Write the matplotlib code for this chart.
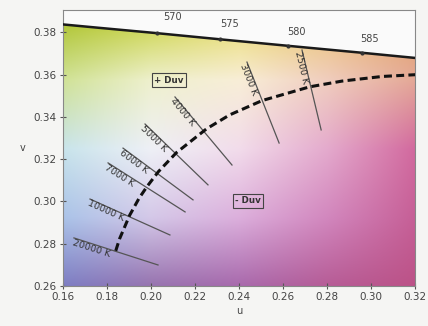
import numpy as np
import matplotlib.pyplot as plt
from matplotlib.patches import Polygon

# spectral locus (CIE 1960 uv), nm
wavelengths = [560, 565, 570, 575, 580, 585, 590]
locus_u = [0.1531, 0.1766, 0.2026, 0.2312, 0.2623, 0.2960, 0.3315]
locus_v = [0.3844, 0.3821, 0.3796, 0.3767, 0.3736, 0.3703, 0.3667]
wl_labels = ["570", "575", "580", "585"]
wl_label_u = [0.210, 0.2355, 0.2659, 0.2991]
wl_label_v = [0.3850, 0.3817, 0.3778, 0.3745]

# planckian locus
cct = [20000, 15000, 10000, 8000, 7000, 6000, 5000, 4000, 3500, 3000, 2500, 2250, 2000, 1800]
planck_u = [0.1840, 0.1857, 0.1903, 0.1946, 0.1982, 0.2034, 0.2115, 0.2252, 0.2357, 0.2505, 0.2721, 0.2867, 0.3050, 0.3231]
planck_v = [0.2766, 0.2822, 0.2934, 0.3015, 0.3070, 0.3141, 0.3230, 0.3343, 0.3409, 0.3477, 0.3542, 0.3569, 0.3591, 0.3601]

# isotemperature lines
iso_labels = ["20000 K", "10000 K", "7000 K", "6000 K", "5000 K", "4000 K", "3000 K", "2500 K"]
iso_u0 = [0.1650, 0.1723, 0.1805, 0.1873, 0.1973, 0.2109, 0.2436, 0.2686]
iso_v0 = [0.2827, 0.3011, 0.3182, 0.3252, 0.3366, 0.3494, 0.3659, 0.3716]
iso_u1 = [0.2032, 0.2086, 0.2155, 0.2191, 0.2259, 0.2368, 0.2582, 0.2773]
iso_v1 = [0.2699, 0.2841, 0.2950, 0.3007, 0.3078, 0.3172, 0.3276, 0.3338]

# background colour control grid (rows: v from 0.26 up to 0.39, cols: u 0.16..0.32)
bg_u = [0.16, 0.20, 0.24, 0.28, 0.32]
bg_v = [0.26, 0.2925, 0.325, 0.3575, 0.39]
bg_rgb = [
    [(125, 125, 195), (150, 115, 175), (168, 105, 172), (182, 92, 150), (188, 82, 135)],
    [(170, 195, 232), (212, 200, 232), (220, 175, 220), (210, 135, 190), (198, 95, 150)],
    [(200, 228, 235), (238, 240, 246), (242, 220, 235), (228, 170, 205), (210, 105, 158)],
    [(208, 226, 150), (238, 240, 205), (248, 238, 215), (240, 205, 190), (228, 168, 150)],
    [(170, 192, 35), (198, 208, 55), (232, 218, 100), (235, 195, 105), (228, 165, 95)],
]

plt.rcParams['font.family'] = ['DejaVu Sans']
fig = plt.figure(figsize=(4.28, 3.26), dpi=100, facecolor='#f5f5f3')
ax = fig.add_axes([0.147, 0.123, 0.823, 0.846])
ax.set_facecolor('#fafafa')

du = bg_u[1] - bg_u[0]
dv = bg_v[1] - bg_v[0]
img = np.array(bg_rgb, dtype=float) / 255.0
im = ax.imshow(img, origin='lower', interpolation='bilinear', aspect='auto',
               extent=[bg_u[0] - du / 2, bg_u[-1] + du / 2, bg_v[0] - dv / 2, bg_v[-1] + dv / 2],
               zorder=0)
clip = Polygon(list(zip(locus_u, locus_v)) + [(locus_u[-1], 0.2), (locus_u[0], 0.2)],
               closed=True, transform=ax.transData, facecolor='none', edgecolor='none')
ax.add_patch(clip)
im.set_clip_path(clip)

# spectral locus
ax.plot(locus_u, locus_v, color='#1a1a1a', lw=1.8, zorder=3)
ax.plot(locus_u[2:6], locus_v[2:6], 'o', color='#333333', ms=2, zorder=4)
for t, x, y in zip(wl_labels, wl_label_u, wl_label_v):
    ax.text(x, y, t, fontsize=7, color='#444444', ha='center', va='bottom', zorder=5)

# isotemperature lines + labels
for lab, x0, y0, x1, y1 in zip(iso_labels, iso_u0, iso_v0, iso_u1, iso_v1):
    ax.plot([x0, x1], [y0, y1], color='#555555', lw=0.9, zorder=2)
    ang = np.degrees(np.arctan2(y1 - y0, x1 - x0))
    ax.text(x0, y0, lab, fontsize=6.8, color='#333333', rotation=ang,
            rotation_mode='anchor', transform_rotates_text=True,
            ha='left', va='top', zorder=5)

# planckian locus
ax.plot(planck_u, planck_v, color='#111111', lw=2.2, ls=(0, (2.6, 1.4)), zorder=4)

box = dict(boxstyle='square,pad=0.25', facecolor='none', edgecolor='#444444', lw=0.8)
ax.text(0.2082, 0.3574, "+ Duv", fontsize=6.3, fontweight='bold', color='#333333',
        ha='center', va='center', bbox=box, zorder=5)
ax.text(0.2441, 0.3002, "- Duv", fontsize=6.3, fontweight='bold', color='#333333',
        ha='center', va='center', bbox=box, zorder=5)

ax.set_xlim(0.16, 0.32)
ax.set_ylim(0.26, 0.3905)
ax.set_xticks(np.arange(0.16, 0.321, 0.02))
ax.set_yticks(np.arange(0.26, 0.381, 0.02))
ax.set_xticklabels([f"{t:.2f}" for t in np.arange(0.16, 0.321, 0.02)])
ax.set_yticklabels([f"{t:.2f}" for t in np.arange(0.26, 0.381, 0.02)])
ax.tick_params(direction='inout', length=5, width=0.8, colors='#555555',
               labelsize=7.5, labelcolor='#444444', pad=2)
for s in ax.spines.values():
    s.set_color('#888888')
    s.set_linewidth(0.8)
ax.set_xlabel("u", fontsize=7, color='#444444', labelpad=3)
ax.set_ylabel("v", fontsize=7, color='#444444', rotation=0, labelpad=8, va='center')

fig.savefig("out.png", dpi=100, facecolor=fig.get_facecolor())
